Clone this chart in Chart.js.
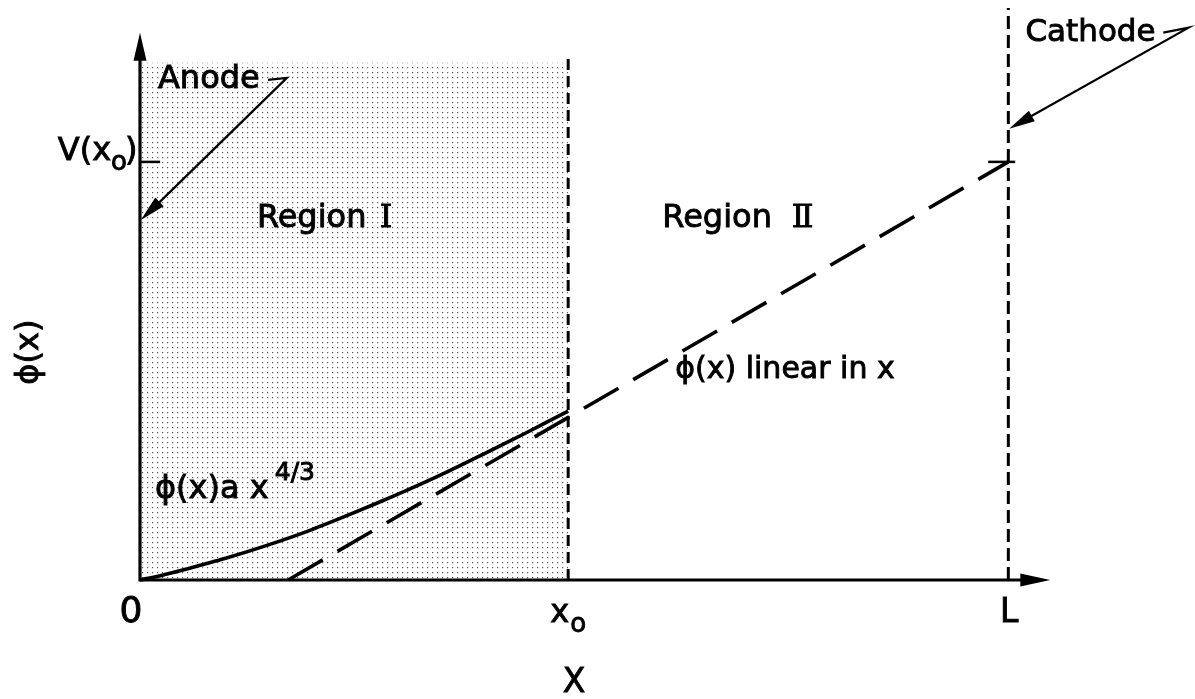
<!DOCTYPE html>
<html>
<head>
<meta charset="utf-8">
<script src="https://cdn.jsdelivr.net/npm/chart.js@4.4.1/dist/chart.umd.min.js"></script>
<style>
  html, body { margin: 0; padding: 0; background: #fff; }
  #wrap { width: 1195px; height: 699px; }
</style>
</head>
<body>
<div id="wrap"><canvas id="diode"></canvas></div>
<script>
// positions along x in units of x0, potential in units of V(x0)
const x0 = 1.0;
const L = 2.028;
const V = 1.0;

// space-charge region curve, phi(x) ~ x^(4/3)
const curveX = [0, 0.05, 0.1, 0.2, 0.3, 0.4, 0.5, 0.6, 0.7, 0.8, 0.9, 1.0];
const curveY = [0, 0.011, 0.024, 0.052, 0.084, 0.12, 0.161, 0.204, 0.25, 0.3, 0.351, 0.404];

// linear part, extended back to the axis
const linearX = [0.346, 2.028];
const linearY = [0, 1.0];

// shaded region I and the boundary lines
const regionTop = 1.237;
const x0LineTop = 1.25;
const cathodeTop = 1.368;

const pts = (xs, ys) => xs.map((x, i) => ({ x: x, y: ys[i] }));

function stipple() {
  const c = document.createElement('canvas');
  c.width = 5; c.height = 5;
  const g = c.getContext('2d');
  g.fillStyle = '#fff';
  g.fillRect(0, 0, 5, 5);
  g.fillStyle = '#555';
  g.fillRect(2, 2, 1.2, 1.2);
  return g.createPattern(c, 'repeat');
}

function arrowHead(ctx, fx, fy, tx, ty, len, half) {
  const a = Math.atan2(ty - fy, tx - fx);
  ctx.beginPath();
  ctx.moveTo(tx, ty);
  ctx.lineTo(tx - len * Math.cos(a) + half * Math.sin(a), ty - len * Math.sin(a) - half * Math.cos(a));
  ctx.lineTo(tx - len * Math.cos(a) - half * Math.sin(a), ty - len * Math.sin(a) + half * Math.cos(a));
  ctx.closePath();
  ctx.fill();
}

const FONT = "'DejaVu Sans', sans-serif";
const SERIF = "'DejaVu Serif', serif";

// filled text with a thin outline, the lettering in the original is heavy
function text(ctx, s, x, y) {
  ctx.fillText(s, x, y);
  ctx.strokeText(s, x, y);
}

const annotate = {
  id: 'annotate',
  afterDatasetsDraw(chart) {
    const ctx = chart.ctx;
    const sx = chart.scales.x, sy = chart.scales.y;
    const X = v => sx.getPixelForValue(v);
    const Y = v => sy.getPixelForValue(v);
    ctx.save();
    ctx.fillStyle = '#000';
    ctx.strokeStyle = '#000';
    ctx.lineCap = 'butt';

    // axes with arrows
    ctx.lineWidth = 3.2;
    ctx.beginPath();
    ctx.moveTo(X(0), Y(0) + 1.5);
    ctx.lineTo(X(0), Y(1.26));
    ctx.moveTo(X(0) - 1.5, Y(0));
    ctx.lineTo(X(2.07), Y(0));
    ctx.stroke();
    arrowHead(ctx, X(0), Y(0), X(0), Y(1.309), 28, 6.5);
    arrowHead(ctx, X(0), Y(0), X(2.126), Y(0), 30, 6.5);

    // anode and cathode leaders
    ctx.lineWidth = 2.2;
    ctx.beginPath();
    ctx.moveTo(X(0.299), Y(1.196));
    ctx.lineTo(X(0.343), Y(1.201));
    ctx.lineTo(X(0.02), Y(0.878));
    ctx.moveTo(X(2.39), Y(1.309));
    ctx.lineTo(X(2.449), Y(1.321));
    ctx.lineTo(X(2.055), Y(1.094));
    ctx.stroke();
    arrowHead(ctx, X(0.343), Y(1.201), X(0.002), Y(0.861), 26, 6);
    arrowHead(ctx, X(2.449), Y(1.321), X(2.030), Y(1.079), 26, 6);

    ctx.lineWidth = 0.9;
    ctx.textBaseline = 'alphabetic';
    ctx.textAlign = 'left';
    ctx.font = '32px ' + FONT;
    text(ctx, 'Anode', X(0.042), Y(1.177));
    ctx.font = '31px ' + FONT;
    text(ctx, 'Cathode', X(2.068), Y(1.289));

    ctx.font = '32px ' + FONT;
    text(ctx, 'Region', X(0.273), Y(0.844));
    text(ctx, 'Region', X(1.220), Y(0.844));
    ctx.font = '32px ' + SERIF;
    text(ctx, '\u2160', X(0.560), Y(0.844));
    text(ctx, '\u2161', X(1.522), Y(0.844));

    ctx.font = '30px ' + FONT;
    text(ctx, '\u03D5(x) linear in x', X(1.25), Y(0.483));

    // phi(x) a x^(4/3)
    ctx.font = '32px ' + FONT;
    const lx = X(0.035), ly = Y(0.196);
    const base = '\u03D5(x)a x';
    text(ctx, base, lx, ly);
    const bw = ctx.measureText(base).width;
    ctx.font = '25px ' + FONT;
    text(ctx, '4/3', lx + bw + 6, ly - 18);

    // V(x0) label
    ctx.font = '32px ' + FONT;
    let vx = X(-0.192);
    const vy = Y(1.005);
    text(ctx, 'V(x', vx, vy);
    vx += ctx.measureText('V(x').width;
    ctx.font = '26px ' + FONT;
    text(ctx, 'o', vx, vy + 10);
    vx += ctx.measureText('o').width;
    ctx.font = '32px ' + FONT;
    text(ctx, ')', vx - 2, vy);

    // axis tick labels
    ctx.textAlign = 'center';
    ctx.font = '36px ' + FONT;
    text(ctx, '0', X(-0.021), Y(-0.1));
    ctx.font = '33px ' + FONT;
    text(ctx, 'L', X(2.030), Y(-0.1));
    text(ctx, 'X', X(1.014), Y(-0.268));
    ctx.textAlign = 'left';
    ctx.font = '32px ' + FONT;
    text(ctx, 'x', X(0.958), Y(-0.1));
    ctx.font = '26px ' + FONT;
    text(ctx, 'o', X(0.958) + 20, Y(-0.1) + 10);

    // y axis title
    ctx.translate(X(-0.257), Y(0.545));
    ctx.rotate(-Math.PI / 2);
    ctx.textAlign = 'center';
    ctx.textBaseline = 'middle';
    ctx.font = '32px ' + FONT;
    text(ctx, '\u03D5(x)', 0, 0);
    ctx.restore();
  }
};

new Chart(document.getElementById('diode'), {
  type: 'scatter',
  data: {
    datasets: [
      {
        label: 'Region I',
        data: pts([0, x0], [regionTop, regionTop]),
        showLine: true,
        borderWidth: 0,
        pointRadius: 0,
        fill: 'origin',
        backgroundColor: stipple(),
        order: 10
      },
      {
        label: 'x0 boundary',
        data: pts([x0, x0], [0, x0LineTop]),
        showLine: true,
        borderColor: '#000',
        borderWidth: 3,
        borderDash: [11, 6],
        pointRadius: 0,
        fill: false
      },
      {
        label: 'cathode',
        data: pts([L, L], [0, cathodeTop]),
        showLine: true,
        borderColor: '#000',
        borderWidth: 3,
        borderDash: [13, 6],
        pointRadius: 0,
        fill: false
      },
      {
        label: 'V(x0) tick',
        data: pts([0, 0.047], [V, V]),
        showLine: true,
        borderColor: '#000',
        borderWidth: 2.5,
        pointRadius: 0,
        fill: false
      },
      {
        label: 'V tick at L',
        data: pts([1.981, 2.044], [V, V]),
        showLine: true,
        borderColor: '#000',
        borderWidth: 2.5,
        pointRadius: 0,
        fill: false
      },
      {
        label: 'phi ~ x^4/3',
        data: pts(curveX, curveY),
        showLine: true,
        borderColor: '#000',
        borderWidth: 3.6,
        tension: 0.2,
        pointRadius: 0,
        fill: false
      },
      {
        label: 'phi linear',
        data: pts(linearX, linearY),
        showLine: true,
        borderColor: '#000',
        borderWidth: 3.6,
        borderDash: [40, 17],
        pointRadius: 0,
        fill: false
      }
    ]
  },
  options: {
    responsive: true,
    maintainAspectRatio: false,
    animation: false,
    clip: false,
    layout: { padding: { left: 140, right: 143, top: 3, bottom: 119 } },
    plugins: { legend: { display: false }, tooltip: { enabled: false } },
    scales: {
      x: { type: 'linear', min: 0, max: 2.13, display: false },
      y: { type: 'linear', min: 0, max: 1.38, display: false }
    }
  },
  plugins: [annotate]
});
</script>
</body>
</html>
